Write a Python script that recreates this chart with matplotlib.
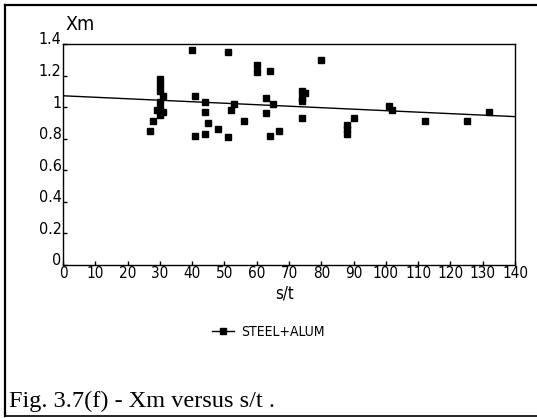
import matplotlib
matplotlib.use("Agg")
import matplotlib.pyplot as plt
from matplotlib.lines import Line2D
from matplotlib.transforms import ScaledTranslation
from matplotlib import font_manager
import numpy as np

### data
st = [27, 28, 29, 30, 30, 30, 31, 30, 30, 31, 30,
      40, 41, 41, 44, 44, 44, 45, 48, 51, 51, 52, 53, 56,
      60, 60, 63, 63, 64, 64, 65, 67,
      74, 75, 74, 74, 74, 80, 88, 88, 88, 90,
      101, 102, 112, 125, 132]
xm = [0.85, 0.91, 0.98, 1.18, 1.14, 1.10, 1.07, 1.03, 0.99, 0.97, 0.95,
      1.36, 1.07, 0.82, 1.03, 0.97, 0.83, 0.90, 0.86, 1.35, 0.81, 0.98, 1.02, 0.91,
      1.27, 1.22, 1.06, 0.96, 1.23, 0.82, 1.02, 0.85,
      1.10, 1.09, 1.06, 1.04, 0.93, 1.30, 0.89, 0.86, 0.83, 0.93,
      1.01, 0.98, 0.91, 0.91, 0.97]

# fitted line (intercept / slope)
fit_a = 1.072
fit_b = -0.000943

xticks = list(range(0, 141, 10))
yticks = [0, 0.2, 0.4, 0.6, 0.8, 1.0, 1.2, 1.4]
ytick_labels = ["0", "0.2", "0.4", "0.6", "0.8", "1", "1.2", "1.4"]

### fonts: a narrow sans if there is one
names = {f.name for f in font_manager.fontManager.ttflist}
cond = [f for f in font_manager.fontManager.ttflist
        if f.name == "DejaVu Sans" and f.stretch == "condensed"]
print(sorted(n for n in names if "Narrow" in n or "Condensed" in n), len(cond))
if "Liberation Sans Narrow" in names:
    tick_font = font_manager.FontProperties(family="Liberation Sans Narrow")
elif cond:
    tick_font = font_manager.FontProperties(family="DejaVu Sans", stretch="condensed")
else:
    tick_font = font_manager.FontProperties(family="DejaVu Sans")

def tf(size):
    p = tick_font.copy()
    p.set_size(size)
    return p

### plotting
fig = plt.figure(figsize=(5.37, 4.18), dpi=100)
W, H = 537, 418
ax = fig.add_axes([63 / W, 1 - 265 / H, (515 - 63) / W, (265 - 44) / H])

ax.plot(st, xm, linestyle="none", marker="s", markersize=4.2, color="black")
xf = np.array([0, 140])
ax.plot(xf, fit_a + fit_b * xf, color="black", linewidth=1)

ax.set_xlim(0, 140)
ax.set_ylim(0, 1.4)
ax.set_xticks(xticks)
ax.set_xticklabels([str(t) for t in xticks], fontproperties=tf(11))
ax.set_yticks(yticks)
ax.set_yticklabels(ytick_labels, fontproperties=tf(11.5))
ax.tick_params(direction="in", length=3, width=1, pad=1)
for sp in ax.spines.values():
    sp.set_linewidth(1)

# y labels sit a bit above their ticks
off = ScaledTranslation(0, 4 / 72, fig.dpi_scale_trans)
for lab in ax.get_yticklabels():
    lab.set_transform(lab.get_transform() + off)

fig.text(65 / W, 1 - 30 / H, "Xm", fontproperties=tf(14),
         ha="left", va="baseline")
fig.text(285 / W, 1 - 294 / H, "s/t", fontproperties=tf(12),
         ha="center", va="center")

handle = Line2D([], [], color="black", linewidth=1, marker="s", markersize=4.2)
fig.legend([handle], ["STEEL+ALUM"], loc="center",
           bbox_to_anchor=(268 / W, 1 - 332 / H),
           frameon=False, handlelength=1.6, handletextpad=0.5,
           prop=tf(10))

fig.text(9 / W, 1 - 407 / H, "Fig. 3.7(f) - Xm versus s/t .",
         family="Liberation Serif", fontsize=17.5, ha="left", va="baseline")

# outer frame (left, top, bottom)
fig.add_artist(Line2D([5 / W, 5 / W], [1 - 5 / H, 1 - 416 / H],
                      transform=fig.transFigure, color="black", linewidth=1.6))
fig.add_artist(Line2D([5 / W, 1], [1 - 5 / H, 1 - 5 / H],
                      transform=fig.transFigure, color="black", linewidth=1.6))
fig.add_artist(Line2D([5 / W, 1], [1 - 416 / H, 1 - 416 / H],
                      transform=fig.transFigure, color="black", linewidth=1.2))

fig.savefig("out.png", dpi=100)
